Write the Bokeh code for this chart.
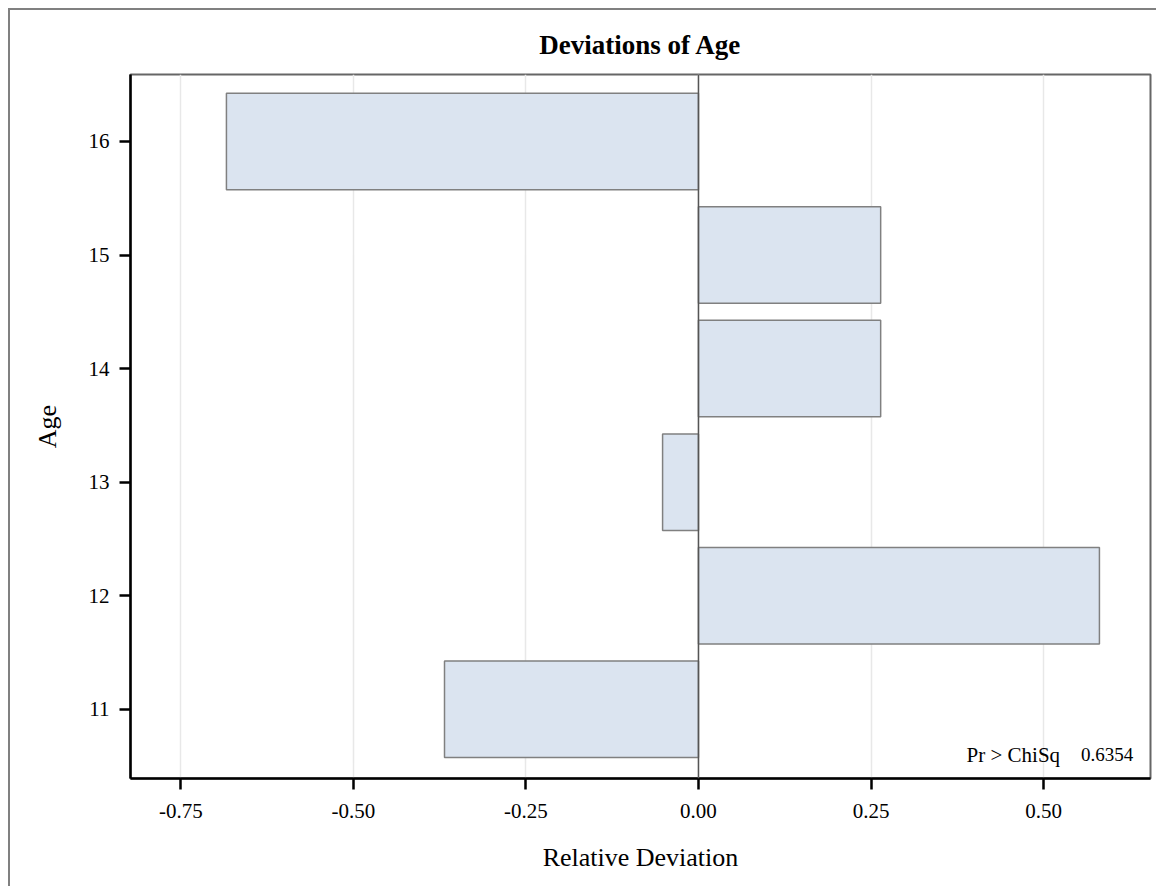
from bokeh.plotting import figure
from bokeh.models import ColumnDataSource, FixedTicker, NumeralTickFormatter, Span, Label, Range1d
from bokeh.embed import file_html
from bokeh.resources import INLINE

# Data
ages = [11, 12, 13, 14, 15, 16]
deviations = [-0.368, 0.581, -0.052, 0.264, 0.264, -0.684]
x_ticks = [-0.75, -0.50, -0.25, 0.00, 0.25, 0.50]
y_ticks = [11, 12, 13, 14, 15, 16]
stat_name = "Pr > ChiSq"
stat_value = "0.6354"

SERIF = "Liberation Serif"

p = figure(width=1148, height=878, output_backend="svg", toolbar_location=None,
           x_range=Range1d(-0.823, 0.655), y_range=Range1d(10.39, 16.59),
           min_border_left=120, min_border_right=8, min_border_top=64, min_border_bottom=110,
           title="Deviations of Age")
p.styles = {"border-left": "2px solid #808080", "border-top": "2px solid #808080",
            "margin-left": "8px", "margin-top": "8px"}

p.title.align = "center"
p.title.text_font = SERIF
p.title.text_font_size = "27px"
p.title.text_font_style = "bold"
p.title.text_color = "black"
p.title.standoff = 30

p.outline_line_color = "#666666"
p.outline_line_width = 2

src = ColumnDataSource(dict(age=ages, dev=deviations))
p.hbar(y="age", left=0, right="dev", height=0.85, source=src,
       fill_color="#dbe4f0", line_color="#808080", line_width=1.5)

p.add_layout(Span(location=0, dimension="height", line_color="#555555", line_width=1.5))

p.xaxis.ticker = FixedTicker(ticks=x_ticks)
p.xaxis.formatter = NumeralTickFormatter(format="0.00")
p.yaxis.ticker = FixedTicker(ticks=y_ticks)

for ax in (p.xaxis, p.yaxis):
    ax.axis_line_color = "black"
    ax.axis_line_width = 2.5
    ax.major_tick_line_color = "black"
    ax.major_tick_line_width = 2.5
    ax.major_tick_out = 11
    ax.major_tick_in = 0
    ax.minor_tick_line_color = None
    ax.major_label_text_font = SERIF
    ax.major_label_text_font_size = "21px"
    ax.major_label_text_color = "black"
    ax.axis_label_text_font = SERIF
    ax.axis_label_text_font_size = "26px"
    ax.axis_label_text_font_style = "normal"
    ax.axis_label_text_color = "black"
    ax.major_label_standoff = 10

p.xaxis.major_label_standoff = 14
p.xaxis.axis_label = "Relative Deviation"
p.yaxis.axis_label = "Age"
p.xaxis.axis_label_standoff = 22
p.yaxis.axis_label_standoff = 24
p.yaxis.major_label_orientation = "horizontal"

p.xgrid.grid_line_color = "#e8e8e8"
p.xgrid.grid_line_width = 1.5
p.ygrid.grid_line_color = None

p.add_layout(Label(x=0.524, y=10.60, text=stat_name, text_align="right",
                   text_baseline="alphabetic",
                   text_font=SERIF, text_font_size="21px", text_color="black"))
p.add_layout(Label(x=0.63, y=10.60, text=stat_value, text_align="right",
                   text_baseline="alphabetic",
                   text_font=SERIF, text_font_size="19px", text_color="black"))

open("out.html", "w").write(file_html(p, INLINE))
